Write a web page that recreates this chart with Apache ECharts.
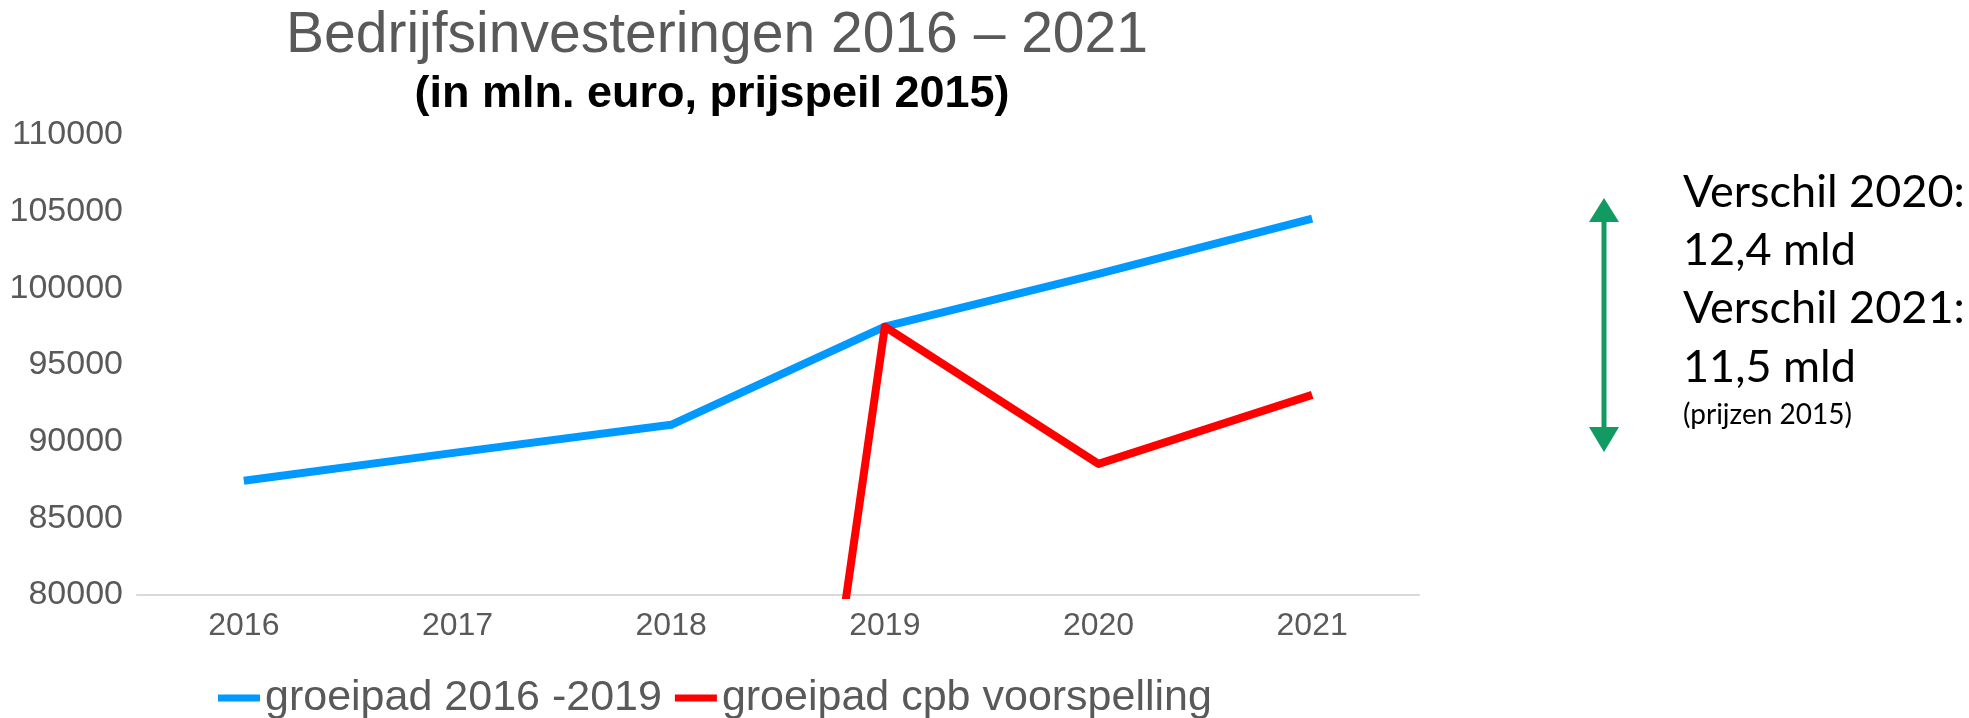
<!DOCTYPE html>
<html>
<head>
<meta charset="utf-8">
<script src="https://cdn.jsdelivr.net/npm/echarts@6/dist/echarts.min.js"></script>
<style>
  html, body { margin: 0; padding: 0; background: #fff; }
  #chart { width: 1969px; height: 718px; }
</style>
</head>
<body>
<div id="chart"></div>
<script>
const years = ['2016', '2017', '2018', '2019', '2020', '2021'];
const groeipad = [87450, 89300, 91100, 97500, 100950, 104550];
const cpbVoorspelling = [null, null, 0, 97500, 88550, 93050];
const notes = ['Verschil 2020:', '12,4 mld', 'Verschil 2021:', '11,5 mld'];

const grey = '#595959';
const arrowGreen = '#129a63';
const font = '"Liberation Sans", Arial, sans-serif';
const noteFont = 'Lato, "Open Sans", sans-serif';

const chart = echarts.init(document.getElementById('chart'));

const noteY = [192, 250, 308, 367];
const graphics = [
  {
    type: 'text', x: 717, y: 36,
    style: { text: 'Bedrijfsinvesteringen 2016 – 2021', font: '57px ' + font, fill: grey, align: 'center', verticalAlign: 'middle' }
  },
  {
    type: 'text', x: 712, y: 95,
    style: { text: '(in mln. euro, prijspeil 2015)', font: 'bold 45px ' + font, fill: '#000', align: 'center', verticalAlign: 'middle' }
  },
  // double arrow
  { type: 'line', shape: { x1: 1604, y1: 218, x2: 1604, y2: 430 }, style: { stroke: arrowGreen, lineWidth: 5 } },
  { type: 'polygon', shape: { points: [[1604, 198], [1589, 222], [1619, 222]] }, style: { fill: arrowGreen } },
  { type: 'polygon', shape: { points: [[1589, 427], [1619, 427], [1604, 452]] }, style: { fill: arrowGreen } },
  {
    type: 'text', x: 1683, y: 415,
    style: { text: '(prijzen 2015)', font: '28px ' + noteFont, fill: '#000', align: 'left', verticalAlign: 'middle' }
  }
];
notes.forEach((t, i) => {
  graphics.push({
    type: 'text', x: 1683, y: noteY[i],
    style: { text: t, font: '45px ' + noteFont, fill: '#000', align: 'left', verticalAlign: 'middle' }
  });
});

chart.setOption({
  animation: false,
  backgroundColor: '#fff',
  grid: { left: 137, right: 550, top: 135, bottom: 123 },
  legend: {
    left: 213,
    top: 671,
    icon: 'rect',
    itemWidth: 42,
    itemHeight: 7,
    itemGap: 13,
    textStyle: { color: grey, fontSize: 43, fontFamily: font, lineHeight: 44 },
    data: ['groeipad 2016 -2019', 'groeipad cpb voorspelling']
  },
  xAxis: {
    type: 'category',
    data: years,
    boundaryGap: true,
    axisLine: { lineStyle: { color: '#d9d9d9', width: 2 } },
    axisTick: { show: false },
    axisLabel: { color: grey, fontSize: 32, fontFamily: font, margin: 15, lineHeight: 32 }
  },
  yAxis: {
    type: 'value',
    min: 80000,
    max: 110000,
    interval: 5000,
    axisLine: { show: false },
    axisTick: { show: false },
    splitLine: { show: false },
    axisLabel: { color: grey, fontSize: 34, fontFamily: font, margin: 14, formatter: (v) => String(v) }
  },
  series: [
    {
      name: 'groeipad 2016 -2019',
      type: 'line',
      data: groeipad,
      symbol: 'none',
      color: '#0099ff',
      lineStyle: { width: 8, join: 'round' }
    },
    {
      name: 'groeipad cpb voorspelling',
      type: 'line',
      data: cpbVoorspelling,
      symbol: 'none',
      color: '#ff0000',
      clip: true,
      lineStyle: { width: 8, join: 'round' }
    }
  ],
  graphic: graphics
});
</script>
</body>
</html>
